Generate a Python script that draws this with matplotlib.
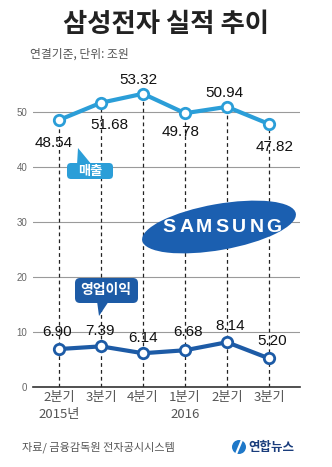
#!/usr/bin/env python3
"""Samsung Electronics quarterly results chart (Yonhap style)."""

import matplotlib
matplotlib.use('Agg')
import matplotlib.pyplot as plt
from matplotlib.patches import FancyBboxPatch, Polygon, Ellipse, Circle

plt.rcParams['font.family'] = ['Noto Sans CJK KR', 'DejaVu Sans']

# Data (조원, 연결기준)
quarters = ['2분기\n2015년', '3분기', '4분기', '1분기\n2016', '2분기', '3분기']
revenue = [48.54, 51.68, 53.32, 49.78, 50.94, 47.82]
op_profit = [6.90, 7.39, 6.14, 6.68, 8.14, 5.20]
yticks = [0, 10, 20, 30, 40, 50]

# label offsets in pixels (dx, dy) relative to each point
rev_off = [(-5, -23), (8, -22), (-5, 14), (-4, -19), (-3, 14), (6, -23)]
op_off = [(-2, 17), (-1, 15), (0, 15), (3, 18), (3, 16), (3, 17)]

REV_C = '#2b9ed8'
OP_C = '#1d5ba6'
W, H = 332, 467

fig = plt.figure(figsize=(W / 100, H / 100), dpi=100)
fig.patch.set_facecolor('white')

# ─── data axes ───
ax = fig.add_axes([33 / W, (H - 387) / H, 267 / W, 330 / H])
x = list(range(len(quarters)))
ax.set_xlim(-26 / 42, 5 + 31 / 42)
ax.set_ylim(0, 60)

ax.set_yticks(yticks)
ax.set_yticklabels([str(t) for t in yticks], fontsize=7, color='#666',
                   family=['Liberation Sans', 'DejaVu Sans'])
ax.grid(axis='y', color='#9a9a9a', lw=0.8)
ax.set_axisbelow(True)
ax.set_xticks(x)
ax.set_xticklabels(quarters, fontsize=9.5, color='#555', linespacing=1.35)
ax.tick_params(length=0, pad=3)
ax.tick_params(axis='y', pad=4)
for s in ['top', 'right', 'left']:
    ax.spines[s].set_visible(False)
ax.spines['bottom'].set_color('#333')
ax.spines['bottom'].set_linewidth(1.2)

ax.vlines(x, 0, revenue, colors='#222', linestyles=(0, (3, 2.5)), lw=0.9, zorder=1)

ax.plot(x, revenue, '-o', color=REV_C, lw=3, ms=7.5, mfc='white', mec=REV_C,
        mew=2, zorder=3, clip_on=False)
ax.plot(x, op_profit, '-o', color=OP_C, lw=3, ms=7.5, mfc='white', mec=OP_C,
        mew=2, zorder=3, clip_on=False)

num_font = ['Liberation Sans', 'DejaVu Sans']
for xi, v, (dx, dy) in zip(x, revenue, rev_off):
    ax.annotate(f'{v:.2f}', (xi, v), xytext=(dx * 0.72, dy * 0.72),
                textcoords='offset points', ha='center', va='center',
                fontsize=11, color='#111', family=num_font, zorder=4)
for xi, v, (dx, dy) in zip(x, op_profit, op_off):
    ax.annotate(f'{v:.2f}', (xi, v), xytext=(dx * 0.72, dy * 0.72),
                textcoords='offset points', ha='center', va='center',
                fontsize=11, color='#111', family=num_font, zorder=4)

# ─── overlay in pixel coords ───
ov = fig.add_axes([0, 0, 1, 1], zorder=5)
ov.set_xlim(0, W)
ov.set_ylim(H, 0)
ov.axis('off')
ov.patch.set_alpha(0)

ov.text(166, 24, '삼성전자 실적 추이', ha='center', va='center',
        fontsize=19, fontweight='bold', color='#222')
ov.text(30, 54, '연결기준, 단위: 조원', ha='left', va='center',
        fontsize=8.5, color='#555')

# callout: 매출
ov.add_patch(FancyBboxPatch((67, 163), 46, 16, boxstyle='round,pad=0,rounding_size=4',
                            fc=REV_C, ec='none'))
ov.add_patch(Polygon([(78, 148), (77, 165), (92, 165)], closed=True, fc=REV_C, ec='none'))
ov.text(90, 171, '매출', ha='center', va='center', fontsize=9.5,
        fontweight='bold', color='white')

# callout: 영업이익
ov.add_patch(FancyBboxPatch((75, 278), 63, 25, boxstyle='round,pad=0,rounding_size=5',
                            fc=OP_C, ec='none'))
ov.add_patch(Polygon([(97, 301), (109, 301), (99, 316)], closed=True, fc=OP_C, ec='none'))
ov.text(106, 290, '영업이익', ha='center', va='center', fontsize=10,
        fontweight='bold', color='white')

# SAMSUNG logo (letters spread out like the wordmark)
ov.add_patch(Ellipse((219, 227), 156, 46, angle=-10, fc='#1b5fb0', ec='none'))
for i, ch in enumerate('SAMSUNG'):
    ov.text(169 + i * 17.5, 228, ch, ha='center', va='center', fontsize=14,
            fontweight='bold', color='white',
            family=['Liberation Sans', 'DejaVu Sans'])

# footer
ov.text(22, 447, '자료/ 금융감독원 전자공시시스템', ha='left', va='center',
        fontsize=8, color='#555')
ov.add_patch(Circle((239, 447), 7, fc='#1f78c8', ec='none'))
ov.plot([241.5, 236.5], [441, 453], color='white', lw=1.6)
ov.text(248, 447, '연합뉴스', ha='left', va='center', fontsize=9,
        fontweight='bold', color='#1a3d7c')

fig.savefig('out.png', dpi=100)
